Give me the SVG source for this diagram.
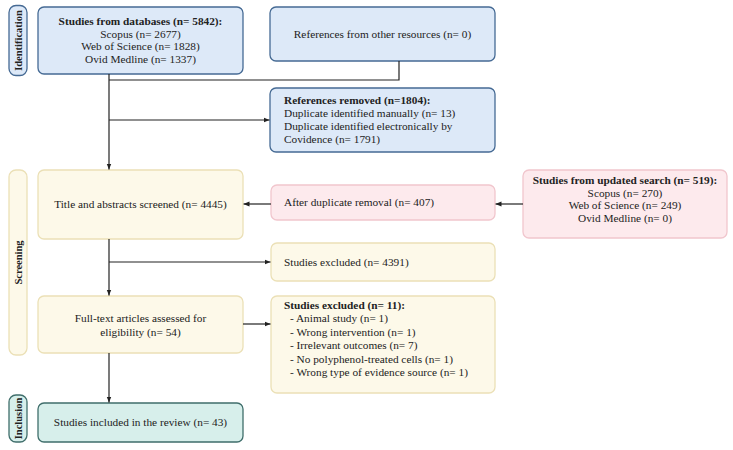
<svg xmlns="http://www.w3.org/2000/svg" width="733" height="450" viewBox="0 0 733 450">
<defs>
<marker id="ah" viewBox="0 0 10 10" refX="10" refY="5" markerWidth="6" markerHeight="6" orient="auto" markerUnits="userSpaceOnUse">
<path d="M0,1 L10,5 L0,9 z" fill="#222"/>
</marker>
<style>
text{font-family:"Liberation Serif","Times New Roman",serif;font-size:11.3px;fill:#222}
.b{font-weight:bold}
.c{text-anchor:middle}
.blue{fill:#dde9f8;stroke:#456a94;stroke-width:1.3}
.yel{fill:#fdf9e9;stroke:#ebe0b6;stroke-width:1.3}
.pink{fill:#fdeaed;stroke:#f1c6cd;stroke-width:1.3}
.teal{fill:#d7efeb;stroke:#3f6e6b;stroke-width:1.3}
.lbl{font-weight:bold;text-anchor:middle;font-size:10.5px}
.con{fill:none;stroke:#222;stroke-width:1.2}
</style>
</defs>
<rect width="733" height="450" fill="#fff"/>

<g id="phase-identification">
<rect class="blue" x="9" y="5.5" width="18" height="70" rx="7" stroke-width="1.6"/>
<text class="lbl" transform="translate(21.5,40.5) rotate(-90)">Identification</text>
</g>
<g id="phase-screening">
<rect class="yel" x="9" y="170" width="18" height="185" rx="7"/>
<text class="lbl" transform="translate(21.5,262.5) rotate(-90)">Screening</text>
</g>
<g id="phase-inclusion">
<rect class="teal" x="9" y="395" width="18" height="47" rx="7" stroke-width="1.6"/>
<text class="lbl" transform="translate(21.5,418.5) rotate(-90)">Inclusion</text>
</g>

<g id="n-databases">
<rect class="blue" x="38" y="7" width="205" height="67" rx="6"/>
<text class="c b" x="140.5" y="25">Studies from databases (n= 5842):</text>
<text class="c" x="140.5" y="37.5">Scopus (n= 2677)</text>
<text class="c" x="140.5" y="50">Web of Science (n= 1828)</text>
<text class="c" x="140.5" y="62.5">Ovid Medline (n= 1337)</text>
</g>
<g id="n-other">
<rect class="blue" x="270" y="7" width="225" height="54" rx="6"/>
<text class="c" x="382.5" y="38">References from other resources  (n= 0)</text>
</g>
<g id="n-removed">
<rect class="blue" x="270" y="88" width="225" height="64" rx="6"/>
<text class="b" x="284" y="104">References removed (n=1804):</text>
<text x="284" y="117">Duplicate identified manually (n= 13)</text>
<text x="284" y="130">Duplicate identified electronically by</text>
<text x="284" y="143">Covidence (n= 1791)</text>
</g>
<g id="n-title">
<rect class="yel" x="38" y="170" width="205" height="69" rx="6"/>
<text class="c" x="140.5" y="208">Title and abstracts screened (n= 4445)</text>
</g>
<g id="n-afterdup">
<rect class="pink" x="271" y="185" width="224" height="35" rx="6"/>
<text x="284" y="206">After duplicate removal (n= 407)</text>
</g>
<g id="n-updated">
<rect class="pink" x="523" y="170" width="204" height="68" rx="6"/>
<text class="c b" x="625" y="184">Studies from updated search (n= 519):</text>
<text class="c" x="625" y="196.5">Scopus (n= 270)</text>
<text class="c" x="625" y="209">Web of Science (n= 249)</text>
<text class="c" x="625" y="221.5">Ovid Medline (n= 0)</text>
</g>
<g id="n-excluded1">
<rect class="yel" x="271" y="243" width="224" height="38" rx="6"/>
<text x="284" y="265.5">Studies excluded (n= 4391)</text>
</g>
<g id="n-fulltext">
<rect class="yel" x="38" y="296" width="205" height="57" rx="6"/>
<text class="c" x="140.5" y="322">Full-text articles assessed for</text>
<text class="c" x="140.5" y="335.5">eligibility (n= 54)</text>
</g>
<g id="n-excluded2">
<rect class="yel" x="271" y="296" width="224" height="97" rx="6"/>
<text class="b" x="284" y="308.5">Studies excluded (n= 11):</text>
<text x="290" y="322">- Animal study (n= 1)</text>
<text x="290" y="335.5">- Wrong intervention (n= 1)</text>
<text x="290" y="349">- Irrelevant outcomes (n= 7)</text>
<text x="290" y="362.5">- No polyphenol-treated cells (n= 1)</text>
<text x="290" y="376">- Wrong type of evidence source (n= 1)</text>
</g>
<g id="n-included">
<rect class="teal" x="38" y="403" width="205" height="39" rx="6"/>
<text class="c" x="140.5" y="426">Studies included in the review (n= 43)</text>
</g>

<g id="connectors">
<path class="con" d="M109,74 V169.5" marker-end="url(#ah)"/>
<path class="con" d="M109,80 H399 V61"/>
<path class="con" d="M109,120 H269.5" marker-end="url(#ah)"/>
<path class="con" d="M523,204 H495.5" marker-end="url(#ah)"/>
<path class="con" d="M271,204 H243.5" marker-end="url(#ah)"/>
<path class="con" d="M109,239 V295.5" marker-end="url(#ah)"/>
<path class="con" d="M109,262 H270.5" marker-end="url(#ah)"/>
<path class="con" d="M243,324 H270.5" marker-end="url(#ah)"/>
<path class="con" d="M109,353 V402.5" marker-end="url(#ah)"/>
</g>
</svg>
